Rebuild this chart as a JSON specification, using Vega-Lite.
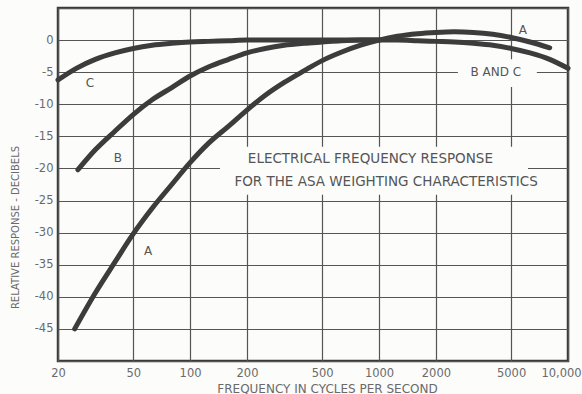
{
  "$schema": "https://vega.github.io/schema/vega-lite/v6.json",
  "width": 510,
  "height": 353,
  "autosize": {"type": "none"},
  "padding": {"left": 58, "top": 8, "right": 14, "bottom": 33},
  "background": "#fcfcfb",
  "config": {
    "view": {"stroke": "#3a3a3a", "strokeWidth": 2.5, "fill": "#fcfcfb"},
    "font": "DejaVu Sans"
  },
  "datasets": {
    "curves": [
      {"curve": "A", "f": 24.5, "db": -45.0},
      {"curve": "A", "f": 31.5, "db": -39.4},
      {"curve": "A", "f": 40, "db": -34.6},
      {"curve": "A", "f": 50, "db": -30.2},
      {"curve": "A", "f": 63, "db": -26.2},
      {"curve": "A", "f": 80, "db": -22.5},
      {"curve": "A", "f": 100, "db": -19.1},
      {"curve": "A", "f": 125, "db": -16.1},
      {"curve": "A", "f": 160, "db": -13.4},
      {"curve": "A", "f": 200, "db": -10.9},
      {"curve": "A", "f": 250, "db": -8.6},
      {"curve": "A", "f": 315, "db": -6.6},
      {"curve": "A", "f": 400, "db": -4.8},
      {"curve": "A", "f": 500, "db": -3.2},
      {"curve": "A", "f": 630, "db": -1.9},
      {"curve": "A", "f": 800, "db": -0.8},
      {"curve": "A", "f": 1000, "db": 0},
      {"curve": "A", "f": 1250, "db": 0.6},
      {"curve": "A", "f": 1600, "db": 1.0},
      {"curve": "A", "f": 2000, "db": 1.2},
      {"curve": "A", "f": 2500, "db": 1.3},
      {"curve": "A", "f": 3150, "db": 1.2},
      {"curve": "A", "f": 4000, "db": 0.9},
      {"curve": "A", "f": 5000, "db": 0.4},
      {"curve": "A", "f": 6300, "db": -0.3},
      {"curve": "A", "f": 8000, "db": -1.2},
      {"curve": "B", "f": 25.5, "db": -20.2},
      {"curve": "B", "f": 31.5, "db": -17.1},
      {"curve": "B", "f": 40, "db": -14.2},
      {"curve": "B", "f": 50, "db": -11.6},
      {"curve": "B", "f": 63, "db": -9.3},
      {"curve": "B", "f": 80, "db": -7.4},
      {"curve": "B", "f": 100, "db": -5.6},
      {"curve": "B", "f": 125, "db": -4.2},
      {"curve": "B", "f": 160, "db": -3.0},
      {"curve": "B", "f": 200, "db": -2.0},
      {"curve": "B", "f": 250, "db": -1.3},
      {"curve": "B", "f": 315, "db": -0.8},
      {"curve": "B", "f": 400, "db": -0.5},
      {"curve": "B", "f": 500, "db": -0.3},
      {"curve": "B", "f": 630, "db": -0.1},
      {"curve": "B", "f": 800, "db": 0},
      {"curve": "B", "f": 1000, "db": 0},
      {"curve": "C", "f": 20, "db": -6.2},
      {"curve": "C", "f": 25, "db": -4.4},
      {"curve": "C", "f": 31.5, "db": -3.0},
      {"curve": "C", "f": 40, "db": -2.0},
      {"curve": "C", "f": 50, "db": -1.3},
      {"curve": "C", "f": 63, "db": -0.8},
      {"curve": "C", "f": 80, "db": -0.5},
      {"curve": "C", "f": 100, "db": -0.3},
      {"curve": "C", "f": 125, "db": -0.2},
      {"curve": "C", "f": 160, "db": -0.1},
      {"curve": "C", "f": 200, "db": 0},
      {"curve": "C", "f": 500, "db": 0},
      {"curve": "C", "f": 1000, "db": 0},
      {"curve": "C", "f": 1250, "db": 0},
      {"curve": "C", "f": 1600, "db": -0.1},
      {"curve": "C", "f": 2000, "db": -0.2},
      {"curve": "C", "f": 2500, "db": -0.3},
      {"curve": "C", "f": 3150, "db": -0.5},
      {"curve": "C", "f": 4000, "db": -0.8},
      {"curve": "C", "f": 5000, "db": -1.3},
      {"curve": "C", "f": 6300, "db": -2.0},
      {"curve": "C", "f": 8000, "db": -3.0},
      {"curve": "C", "f": 10000, "db": -4.4}
    ],
    "curveLabels": [
      {"label": "A", "f": 5770, "db": 1.55},
      {"label": "A", "f": 60, "db": -32.9},
      {"label": "B", "f": 41.5, "db": -18.3},
      {"label": "C", "f": 29.5, "db": -6.7},
      {"label": "B  AND  C", "f": 4150, "db": -4.97}
    ],
    "titleLines": [
      {"label": "ELECTRICAL FREQUENCY RESPONSE", "f": 900, "db": -18.6},
      {"label": "FOR THE ASA WEIGHTING CHARACTERISTICS", "f": 1090, "db": -22.05}
    ],
    "gaps": [
      {"f": 144, "f2": 6140, "db": -16.6, "db2": -24.1},
      {"f": 2614, "f2": 6840, "db": -3.0, "db2": -7.3}
    ]
  },
  "data": {"name": "curves"},
  "encoding": {
    "x": {
      "field": "f",
      "type": "quantitative",
      "scale": {"type": "log", "domain": [20, 10000], "nice": false},
      "axis": {
        "values": [20, 50, 100, 200, 500, 1000, 2000, 5000, 10000],
        "labelExpr": "datum.value == 10000 ? '10,000' : '' + datum.value",
        "labelOffset": {"condition": {"test": "datum.value == 10000", "value": -7}, "value": 0},
        "grid": true,
        "gridColor": "#555555",
        "gridWidth": 1.2,
        "gridOpacity": 1,
        "domain": false,
        "ticks": false,
        "labelPadding": 6,
        "labelFontSize": 11.5,
        "labelColor": "#6a6a6a",
        "labelFont": "DejaVu Sans",
        "labelOverlap": false,
        "labelBound": false,
        "labelFlush": false,
        "title": "FREQUENCY IN CYCLES PER SECOND",
        "titleFont": "DejaVu Sans",
        "titleFontSize": 12,
        "titleFontWeight": "normal",
        "titleColor": "#6a6a6a",
        "titleX": 269,
        "titleY": 31,
        "titleAlign": "center",
        "titleBaseline": "alphabetic"
      }
    },
    "y": {
      "field": "db",
      "type": "quantitative",
      "scale": {"domain": [-50, 5], "nice": false, "zero": false},
      "axis": {
        "values": [-50, -45, -40, -35, -30, -25, -20, -15, -10, -5, 0, 5],
        "labelExpr": "datum.value == 5 || datum.value == -50 ? '' : '' + datum.value",
        "grid": true,
        "gridColor": "#555555",
        "gridWidth": 1.2,
        "gridOpacity": 1,
        "domain": false,
        "ticks": false,
        "labelPadding": 5,
        "labelFontSize": 11.5,
        "labelColor": "#6a6a6a",
        "labelFont": "DejaVu Sans",
        "labelBound": false,
        "labelFlush": false,
        "title": "RELATIVE RESPONSE - DECIBELS",
        "titleFont": "DejaVu Sans",
        "titleFontSize": 10,
        "titleFontWeight": "normal",
        "titleColor": "#6a6a6a",
        "titleAngle": -90,
        "titleX": -43,
        "titleY": 219,
        "titleAlign": "center",
        "titleBaseline": "middle"
      }
    }
  },
  "layer": [
    {
      "data": {"name": "gaps"},
      "mark": {"type": "rect", "fill": "#fcfcfb", "strokeWidth": 0},
      "encoding": {
        "x2": {"field": "f2"},
        "y2": {"field": "db2"}
      }
    },
    {
      "mark": {"type": "line", "strokeWidth": 5, "color": "#3c3c3c", "interpolate": "monotone", "strokeCap": "round"},
      "encoding": {
        "detail": {"field": "curve", "type": "nominal"}
      }
    },
    {
      "data": {"name": "titleLines"},
      "mark": {"type": "text", "fontSize": 13.5, "color": "#555555", "font": "DejaVu Sans", "align": "center", "baseline": "middle"},
      "encoding": {"text": {"field": "label", "type": "nominal"}}
    },
    {
      "data": {"name": "curveLabels"},
      "mark": {"type": "text", "fontSize": 12, "color": "#555555", "font": "DejaVu Sans", "align": "center", "baseline": "middle"},
      "encoding": {"text": {"field": "label", "type": "nominal"}}
    }
  ]
}
